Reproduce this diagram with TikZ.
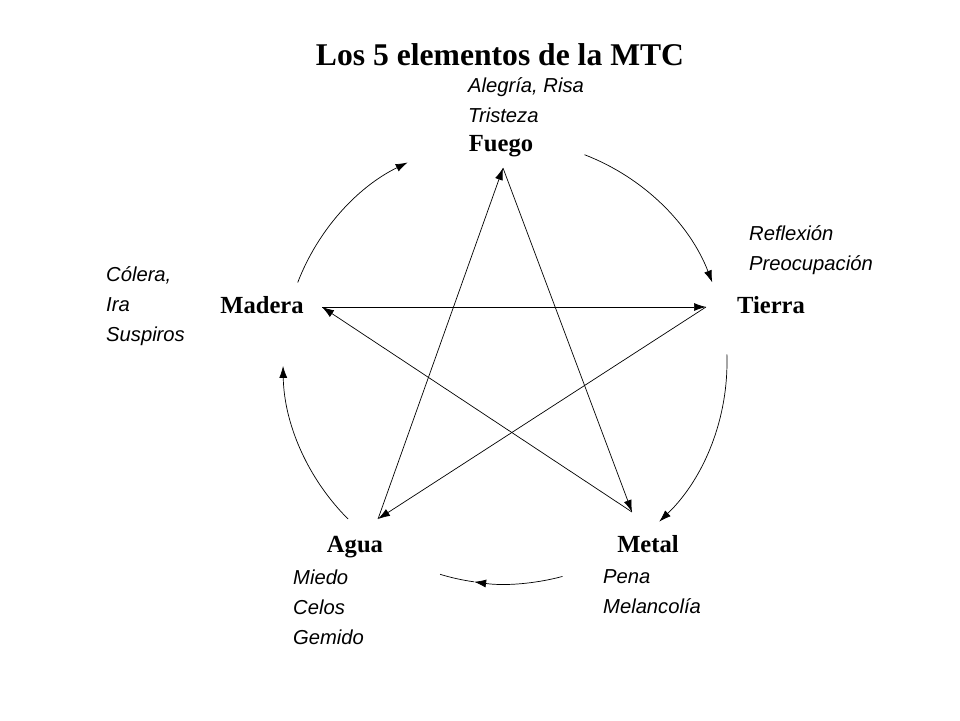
\documentclass[tikz,border=0pt]{standalone}
\usepackage{fontspec}
\setmainfont{Liberation Serif}
\setsansfont{Liberation Sans}
\usetikzlibrary{arrows.meta}
\tikzset{el/.style={font=\fontsize{14}{16}\selectfont\bfseries,anchor=base},
  emo/.style={font=\sffamily\itshape\fontsize{11.5}{17}\selectfont,align=left,anchor=west},
  gen/.style={-{Latex[length=2.4mm,width=1.6mm]},thin},
  ctl/.style={-{Latex[length=2.4mm,width=1.6mm]},thin}}
\begin{document}
\begin{tikzpicture}[x=0.02cm,y=-0.02cm]
\useasboundingbox (0,0) rectangle (960,720);
\node[font=\fontsize{18}{20}\selectfont\bfseries] (title) at (500,55) {Los 5 elementos de la MTC};
% elementos
\node[el] (fuego) at (501,151) {Fuego};
\node[el] (tierra) at (771,313) {Tierra};
\node[el] (metal) at (648,552) {Metal};
\node[el] (agua) at (355,552) {Agua};
\node[el] (madera) at (262,313) {Madera};
% puntas
\coordinate (pf) at (503,168);
\coordinate (pt) at (706,307);
\coordinate (pm) at (632,512);
\coordinate (pa) at (378,519);
\coordinate (pd) at (322,307);
% emociones
\node[emo] (efuego) at (462,100) {Alegría, Risa\\Tristeza};
\node[emo] (etierra) at (743,250) {Reflexión\\Preocupación};
\node[emo] (emadera) at (100,306) {Cólera,\\Ira\\Suspiros};
\node[emo] (eagua) at (287,607) {Miedo\\Celos\\Gemido};
\node[emo] (emetal) at (597,592) {Pena\\Melancolía};
% estrella
\draw[ctl] (pf) -- (pm);
\draw[ctl] (pm) -- (pd);
\draw[ctl] (pd) -- (pt);
\draw[ctl] (pt) -- (pa);
\draw[ctl] (pa) -- (pf);
% circulo
\coordinate (c) at (505,362);
\draw[gen] ([shift={(-159:222)}]c) arc[start angle=-159,end angle=-116,radius=222];
\draw[gen] ([shift={(-69:222)}]c) arc[start angle=-69,end angle=-21,radius=222];
\draw[gen] ([shift={(-2:222)}]c) arc[start angle=-2,end angle=46,radius=222];
\draw[gen] ([shift={(75:222)}]c) arc[start angle=75,end angle=98,radius=222];
\draw ([shift={(98:222)}]c) arc[start angle=98,end angle=107,radius=222];
\draw[gen] ([shift={(135:222)}]c) arc[start angle=135,end angle=179,radius=222];
\end{tikzpicture}
\end{document}
